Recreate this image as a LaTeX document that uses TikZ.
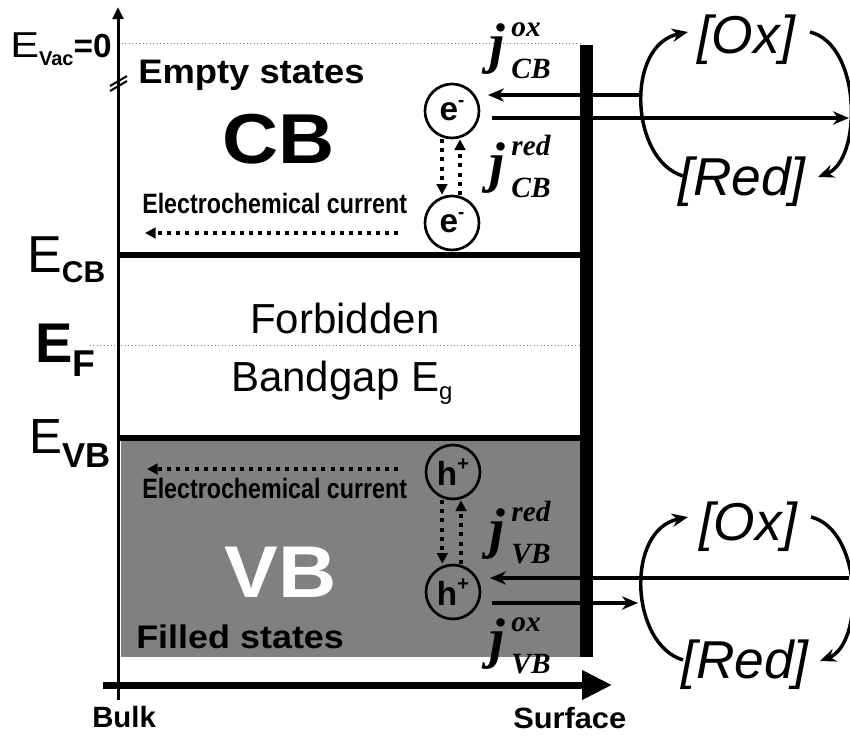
\documentclass[tikz,border=0pt]{standalone}
\usepackage{fontspec}
\setmainfont{Liberation Sans}
\newfontfamily\jfont{Liberation Serif}
\usetikzlibrary{arrows.meta}
\newcommand{\fs}[1]{\fontsize{#1}{#1}\selectfont}
\newcommand{\jlab}[2]{{\jfont\bfseries\itshape\fs{42}j}\kern5pt\rlap{\raisebox{19pt}{\jfont\bfseries\itshape\fs{22}#1}}\raisebox{-12pt}{\jfont\bfseries\itshape\fs{22}#2}}
\definecolor{vbgray}{RGB}{128,128,128}
\begin{document}
\begin{tikzpicture}[x=0.75pt,y=-0.75pt,
  lbl/.style={inner sep=0pt,anchor=base west},
  redox/.style={inner sep=0pt,anchor=base,font=\itshape\fs{40}},
  band/.style={line width=4.5pt},
  flow/.style={line width=2.6pt,-{Stealth[length=12pt,width=10pt]}},
  cyc/.style={line width=2.6pt,-{Stealth[length=12pt,width=10pt]}},
  dotarrow/.style={line width=2.8pt,dash pattern=on 3pt off 3.8pt,-{Triangle[length=8pt,width=8pt]}},
  carrier/.style={circle,draw,line width=2pt,minimum size=40.5pt,inner sep=0pt,font=\bfseries\fs{25}},
  guide/.style={gray,dotted,line width=0.6pt}]
\useasboundingbox (0,0) rectangle (850,736);
% coordinates
\coordinate (axb) at (118,700);
\coordinate (axt) at (118,7);
\coordinate (vac0) at (122,43);
\coordinate (vac1) at (580,43);
\coordinate (ef0) at (90,345);
\coordinate (ef1) at (580,345);
\coordinate (cb0) at (120,255);
\coordinate (cb1) at (580,255);
\coordinate (vb0) at (120,438);
\coordinate (vb1) at (580,438);
\coordinate (bl) at (103,685);
\coordinate (br) at (612,685);
% valence band fill
\fill[vbgray] (121,438) rectangle (580,657);
% guides
\draw[guide] (vac0) -- (vac1);
\draw[guide] (ef0) -- (ef1);
% band edges
\draw[band] (cb0) -- (cb1);
\draw[band] (vb0) -- (vb1);
% surface bar
\fill[black] (580,45) rectangle (593,657);
% axes
\draw[line width=2.25pt,-{Triangle[length=9pt,width=8pt]}] (axb) -- (axt);
\draw[line width=1.5pt] (110,86) -- (127,76);
\draw[line width=1.5pt] (110,91) -- (127,81);
\draw[line width=5.25pt,-{Triangle[length=22.5pt,width=21pt]}] (bl) -- (br);
% left labels
\node[lbl] (evac) at (10,57) {\fs{27}\scalebox{1.2}[1]{E}\raisebox{-6pt}{\bfseries\fs{15}Vac}{\bfseries\fs{25}=0}};
\node[lbl] (ecb) at (27,272) {\fs{39}E\raisebox{-8pt}{\bfseries\fs{22.5}CB}};
\node[lbl] (ef) at (35,362) {\bfseries\fs{42}E\raisebox{-11pt}{\bfseries\fs{28}F}};
\node[lbl] (evb) at (29,453) {\fs{37}E\raisebox{-10.5pt}{\bfseries\fs{26}VB}};
% band texts
\node[lbl] (empty) at (138,83) {\scalebox{1.07}[1]{\bfseries\fs{25.5}Empty states}};
\node[lbl] (cbt) at (222,163) {\scalebox{1.1}[1]{\bfseries\fs{53}CB}};
\node[lbl] (ecc1) at (142,213) {\scalebox{0.83}[1]{\bfseries\fs{21}Electrochemical current}};
\node[lbl] (forb) at (250,333) {\fs{31.5}Forbidden};
\node[lbl] (bgap) at (231,391) {\fs{31.5}Bandgap E\raisebox{-6pt}{\fs{18}g}};
\node[lbl] (ecc2) at (142,498) {\scalebox{0.83}[1]{\bfseries\fs{21}Electrochemical current}};
\node[lbl,text=white] (vbt) at (224,597) {\scalebox{1.1}[1]{\bfseries\fs{55}VB}};
\node[lbl] (filled) at (136,648) {\scalebox{1.1}[1]{\bfseries\fs{24.5}Filled states}};
\node[lbl] (bulk) at (92,727) {\bfseries\fs{22}Bulk};
\node[lbl] (surf) at (513,728) {\scalebox{1.05}[1]{\bfseries\fs{22}Surface}};
% carriers
\node[carrier] (e1) at (452,111) {e\raisebox{0.42em}{\fs{14}-}};
\node[carrier] (e2) at (452,223) {e\raisebox{0.42em}{\fs{14}-}};
\node[carrier] (h1) at (453,472) {h\raisebox{0.45em}{\fs{15}+}};
\node[carrier] (h2) at (453,592) {h\raisebox{0.45em}{\fs{15}+}};
\draw[dotarrow] ([xshift=-7.5pt]e1.south) -- ([xshift=-7.5pt]e2.north);
\draw[dotarrow] ([xshift=6pt]e2.north) -- ([xshift=6pt]e1.south);
\draw[dotarrow] ([xshift=-8pt]h1.south) -- ([xshift=-8pt]h2.north);
\draw[dotarrow] ([xshift=6pt]h2.north) -- ([xshift=6pt]h1.south);
% electrochemical currents
\coordinate (c1s) at (398,233);
\coordinate (c1e) at (145,233);
\coordinate (c2s) at (398,469);
\coordinate (c2e) at (147,469);
\draw[dotarrow] (c1s) -- (c1e);
\draw[dotarrow] (c2s) -- (c2e);
% j labels
\node[lbl] (jcbox) at (489,62) {\jlab{ox}{CB}};
\node[lbl] (jcbred) at (489,181) {\jlab{red}{CB}};
\node[lbl] (jvbred) at (489,547) {\jlab{red}{VB}};
\node[lbl] (jvbox) at (489,657) {\jlab{ox}{VB}};
% redox species
\node[redox] (ox1) at (746,53) {[Ox]};
\node[redox] (red1) at (742,195) {[Red]};
\node[redox] (ox2) at (748,540) {[Ox]};
\node[redox] (red2) at (745,678) {[Red]};
% interfacial currents
\coordinate (u1s) at (642,95);
\coordinate (u1e) at (488,95);
\coordinate (u2s) at (492,118);
\coordinate (u2e) at (849,118);
\coordinate (l1s) at (849,578);
\coordinate (l1e) at (490,578);
\coordinate (l2s) at (492,603);
\coordinate (l2e) at (638,603);
\draw[flow] (u1s) -- (u1e);
\draw[flow] (u2s) -- (u2e);
\draw[flow] (l1s) -- (l1e);
\draw[flow] (l2s) -- (l2e);
% redox cycles
\coordinate (a1) at (683,176);
\coordinate (b1) at (688,32);
\coordinate (c1) at (810,32);
\coordinate (d1) at (818,177);
\coordinate (a2) at (683,660);
\coordinate (b2) at (688,517);
\coordinate (c2) at (811,517);
\coordinate (d2) at (820,661);
\draw[cyc] (a1) .. controls +(-53,-16) and +(-63,13) .. (b1);
\draw[cyc] (c1) .. controls +(52,13) and +(44,-17) .. (d1);
\draw[cyc] (a2) .. controls +(-53,-16) and +(-63,13) .. (b2);
\draw[cyc] (c2) .. controls +(52,13) and +(44,-17) .. (d2);
\end{tikzpicture}
\end{document}
